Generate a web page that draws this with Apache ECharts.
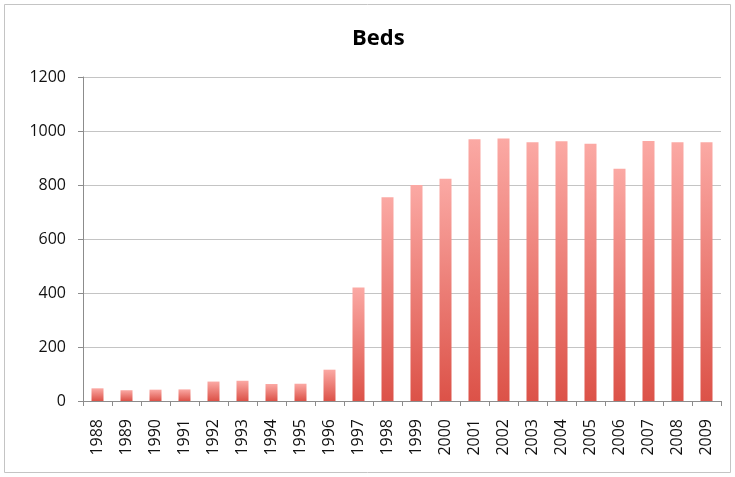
<!DOCTYPE html>
<html><head><meta charset="utf-8">
<script src="https://cdn.jsdelivr.net/npm/echarts@6/dist/echarts.min.js"></script>
<style>html,body{margin:0;padding:0;background:#fff}#c{width:735px;height:477px}</style>
</head><body><div id="c"></div>
<script>
const years = ['1988','1989','1990','1991','1992','1993','1994','1995','1996','1997','1998','1999','2000','2001','2002','2003','2004','2005','2006','2007','2008','2009'];
const beds = [47,40,42,43,72,75,63,64,116,420,755,800,823,969,972,958,962,953,860,963,958,958];
const yTicks = [0,200,400,600,800,1000,1200];

const chart = echarts.init(document.getElementById('c'));
chart.setOption({
  animation:false,
  backgroundColor:'#fff',
  graphic:[{type:'rect',shape:{x:4.5,y:4.5,width:726,height:468},style:{fill:'none',stroke:'#c4c4c4',lineWidth:1}}],
  title:{text:'Beds',left:347,top:23,textStyle:{fontFamily:'Open Sans',fontWeight:'bold',fontSize:22,color:'#000'}},
  grid:{left:83,right:14,top:77,bottom:76},
  xAxis:{type:'category',data:years,boundaryGap:true,
    axisLine:{lineStyle:{color:'#8c8c8c',width:1}},
    axisTick:{show:true,length:5,alignWithLabel:false,lineStyle:{color:'#8c8c8c'}},
    axisLabel:{rotate:90,margin:18,fontFamily:'Open Sans',fontSize:16,color:'#111',interval:0}},
  yAxis:{type:'value',min:yTicks[0],max:yTicks[yTicks.length-1],interval:200,
    axisLine:{show:true,lineStyle:{color:'#8c8c8c'}},
    axisTick:{show:true,inside:false,length:5,lineStyle:{color:'#8c8c8c'}},
    splitLine:{lineStyle:{color:'#c4c4c4',width:1.2}},
    axisLabel:{margin:17,fontFamily:'Open Sans',fontSize:16,color:'#111',formatter:v=>String(v)}},
  series:[{type:'bar',data:beds,barWidth:12,
    itemStyle:{color:new echarts.graphic.LinearGradient(0,0,0,1,[{offset:0,color:'#fba9a4'},{offset:1,color:'#dc5248'}])}}]
});
</script></body></html>
